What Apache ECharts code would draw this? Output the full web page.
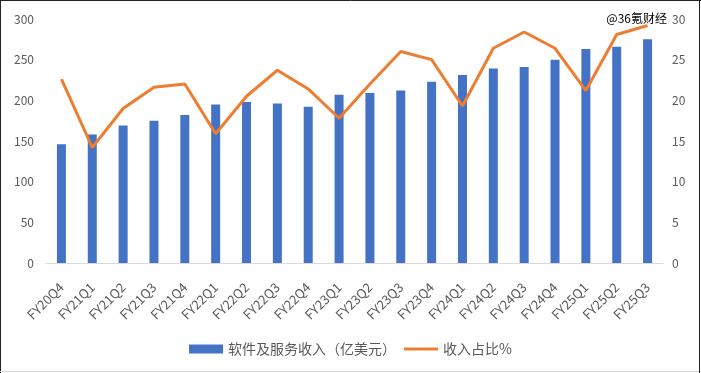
<!DOCTYPE html>
<html>
<head>
<meta charset="utf-8">
<script src="https://cdn.jsdelivr.net/npm/echarts@6/dist/echarts.min.js"></script>
<style>
html,body{margin:0;padding:0;background:#fff;}
#chart{width:701px;height:373px;}
</style>
</head>
<body>
<div id="chart"></div>
<script>
var categories = ['FY20Q4','FY21Q1','FY21Q2','FY21Q3','FY21Q4','FY22Q1','FY22Q2','FY22Q3','FY22Q4','FY23Q1','FY23Q2','FY23Q3','FY23Q4','FY24Q1','FY24Q2','FY24Q3','FY24Q4','FY25Q1','FY25Q2','FY25Q3'];
var revenue = [146, 158, 169, 175, 182, 195, 198, 196, 192, 207, 209, 212, 223, 231, 239, 241, 250, 263, 266, 275];
var share = [22.6, 14.2, 19.0, 21.6, 22.0, 15.9, 20.5, 23.7, 21.4, 17.8, 22.0, 26.0, 25.0, 19.3, 26.4, 28.4, 26.4, 21.2, 28.1, 29.2];
var leftTicks = [0, 300, 50];
var rightTicks = [0, 30, 5];
var seriesNames = ['软件及服务收入（亿美元）', '收入占比%'];
var watermark = '@36氪财经';

var FONT = '"Noto Sans CJK SC", "Noto Sans", sans-serif';
var chart = echarts.init(document.getElementById('chart'));
chart.setOption({
  animation: false,
  backgroundColor: '#fff',
  textStyle: {fontFamily: FONT},
  grid: {left: 46, right: 38, top: 19, bottom: 110, outerBoundsMode: 'none', containLabel: false},
  legend: {
    data: [
      {name: seriesNames[0], icon: 'rect'},
      {name: seriesNames[1], icon: 'path://M0,0L40,0L40,3.6L0,3.6Z'}
    ],
    left: 'center',
    top: 337,
    itemWidth: 34,
    itemHeight: 9,
    itemGap: 8,
    textStyle: {color: '#595959', fontSize: 14, fontFamily: FONT}
  },
  xAxis: {
    type: 'category',
    data: categories,
    axisLine: {lineStyle: {color: '#d9d9d9', width: 1}},
    axisTick: {show: false},
    axisLabel: {rotate: 45, interval: 0, color: '#595959', fontSize: 13, margin: 22, fontFamily: FONT}
  },
  yAxis: [{
    type: 'value', min: leftTicks[0], max: leftTicks[1], interval: leftTicks[2],
    splitLine: {show: false}, axisLine: {show: false}, axisTick: {show: false},
    axisLabel: {color: '#595959', fontSize: 12, margin: 12, fontFamily: FONT}
  }, {
    type: 'value', min: rightTicks[0], max: rightTicks[1], interval: rightTicks[2],
    splitLine: {show: false}, axisLine: {show: false}, axisTick: {show: false},
    axisLabel: {color: '#595959', fontSize: 12, margin: 9, fontFamily: FONT}
  }],
  series: [{
    name: seriesNames[0], type: 'bar', data: revenue, barWidth: 9,
    itemStyle: {color: '#4472C4'}
  }, {
    name: seriesNames[1], type: 'line', yAxisIndex: 1, data: share,
    symbol: 'none', lineStyle: {color: '#ED7D31', width: 3}, itemStyle: {color: '#ED7D31'}
  }],
  graphic: [
    {type: 'text', right: 33, top: 11, z: 100, style: {text: watermark, fill: '#000', stroke: '#fff', lineWidth: 2, font: '12px ' + FONT}},
    {type: 'line', shape: {x1: 0.5, y1: 0, x2: 0.5, y2: 373}, style: {stroke: '#222', lineWidth: 1}},
    {type: 'line', shape: {x1: 0, y1: 0.5, x2: 701, y2: 0.5}, style: {stroke: '#222', lineWidth: 1}},
    {type: 'line', shape: {x1: 699.5, y1: 0, x2: 699.5, y2: 373}, style: {stroke: '#222', lineWidth: 1}},
    {type: 'line', shape: {x1: 0, y1: 371.5, x2: 699, y2: 371.5}, style: {stroke: '#d9d9d9', lineWidth: 1}}
  ]
});
</script>
</body>
</html>
